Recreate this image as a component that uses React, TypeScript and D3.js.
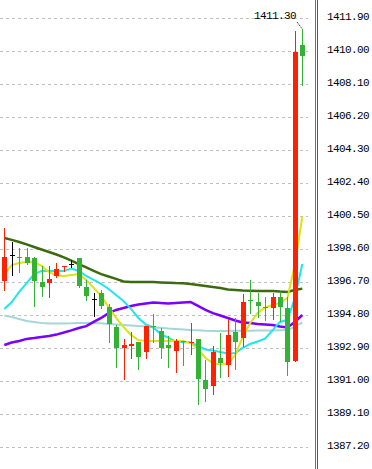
import React, { useEffect, useRef } from "react";
import * as d3 from "d3";

// candles, oldest first (red = up, green = down, black = flat)
const opens = [1396.77, 1398.23, 1398.13, 1398.13, 1398.09, 1396.69, 1396.65, 1397.04, 1397.54, 1397.73,
  1398.09, 1396.40, 1395.69, 1396.06, 1395.25, 1394.10, 1392.90, 1393.02, 1393.23, 1392.67,
  1394.15, 1393.87, 1393.06, 1392.73, 1393.29, 1393.19, 1393.40, 1391.06, 1390.71, 1392.30,
  1391.92, 1393.81, 1393.46, 1395.65, 1395.54, 1395.25, 1395.21, 1395.83, 1395.19, 1392.15, 1410.34];
const highs = [1399.79, 1399.02, 1398.64, 1398.64, 1398.12, 1397.62, 1397.62, 1397.79, 1397.62, 1397.98,
  1398.10, 1396.81, 1396.06, 1396.23, 1395.41, 1394.20, 1393.41, 1393.79, 1393.23, 1394.15,
  1394.85, 1394.04, 1393.55, 1393.41, 1393.29, 1394.33, 1393.41, 1392.19, 1392.98, 1393.74,
  1394.56, 1394.60, 1396.00, 1396.81, 1396.06, 1395.83, 1396.06, 1396.13, 1395.83, 1411.17, 1411.30];
const lows = [1396.19, 1397.06, 1397.23, 1397.67, 1395.27, 1395.84, 1395.75, 1396.91, 1397.29, 1397.48,
  1396.36, 1395.61, 1394.69, 1395.16, 1393.15, 1391.75, 1391.04, 1392.27, 1391.63, 1392.27,
  1393.16, 1392.27, 1391.76, 1391.42, 1391.87, 1392.50, 1389.62, 1389.79, 1390.19, 1391.13,
  1391.21, 1391.62, 1392.93, 1394.86, 1394.63, 1394.46, 1394.52, 1394.37, 1391.29, 1392.10, 1407.98];
const closes = [1398.13, 1398.23, 1398.08, 1397.81, 1396.77, 1396.42, 1396.87, 1397.46, 1397.60, 1397.73,
  1396.48, 1395.91, 1395.69, 1395.33, 1394.29, 1392.90, 1393.06, 1393.12, 1392.38, 1394.15,
  1394.10, 1392.90, 1392.90, 1393.29, 1393.21, 1393.25, 1391.12, 1390.54, 1392.66, 1392.04,
  1393.64, 1393.25, 1395.54, 1395.60, 1395.33, 1395.19, 1395.83, 1395.26, 1392.10, 1409.94, 1409.74];

// moving averages
const ma5 = [1397.15, 1397.67, 1397.79, 1397.85, 1397.85, 1397.62, 1397.27, 1397.07, 1397.04, 1397.10,
  1397.15, 1396.81, 1396.35, 1395.89, 1395.25, 1394.62, 1394.10, 1393.64, 1393.35, 1393.29,
  1393.29, 1393.29, 1393.29, 1393.29, 1393.29, 1393.17, 1392.83, 1392.31, 1392.02, 1391.93,
  1391.96, 1392.48, 1393.52, 1394.33, 1394.90, 1395.22, 1395.37, 1395.48, 1395.77, 1397.67, 1400.47];
const ma10 = [1395.14, 1395.54, 1396.12, 1396.63, 1397.15, 1397.33, 1397.33, 1397.33, 1397.33, 1397.47,
  1397.33, 1397.04, 1396.81, 1396.58, 1396.29, 1395.94, 1395.60, 1395.14, 1394.62, 1394.24,
  1394.07, 1393.69, 1393.49, 1393.26, 1393.23, 1393.20, 1393.00, 1392.80, 1392.74, 1392.66,
  1392.57, 1392.60, 1392.89, 1393.12, 1393.26, 1393.43, 1393.90, 1394.39, 1394.50, 1395.77, 1397.73];
const ma20 = [1393.06, 1393.20, 1393.29, 1393.41, 1393.46, 1393.52, 1393.58, 1393.66, 1393.78, 1393.90,
  1394.04, 1394.15, 1394.39, 1394.62, 1394.90, 1395.08, 1395.19, 1395.31, 1395.39, 1395.45,
  1395.51, 1395.48, 1395.45, 1395.48, 1395.51, 1395.54, 1395.31, 1395.08, 1394.90, 1394.76,
  1394.62, 1394.47, 1394.36, 1394.33, 1394.27, 1394.24, 1394.21, 1394.13, 1394.07, 1394.39, 1394.79];
const ma30 = [1394.76, 1394.67, 1394.56, 1394.44, 1394.39, 1394.33, 1394.30, 1394.30, 1394.30, 1394.31,
  1394.33, 1394.33, 1394.33, 1394.31, 1394.27, 1394.24, 1394.21, 1394.18, 1394.15, 1394.13,
  1394.08, 1394.05, 1394.01, 1393.98, 1393.95, 1393.92, 1393.91, 1393.88, 1393.87, 1393.87,
  1393.87, 1393.88, 1393.88, 1393.88, 1393.89, 1393.89, 1393.89, 1393.91, 1393.92, 1394.10, 1394.36];
const ma60 = [1399.23, 1399.12, 1399.00, 1398.86, 1398.71, 1398.57, 1398.42, 1398.28, 1398.11, 1397.93,
  1397.73, 1397.53, 1397.33, 1397.15, 1397.01, 1396.87, 1396.72, 1396.69, 1396.69, 1396.69,
  1396.69, 1396.67, 1396.65, 1396.63, 1396.62, 1396.58, 1396.52, 1396.46, 1396.40, 1396.35,
  1396.26, 1396.23, 1396.20, 1396.19, 1396.18, 1396.17, 1396.17, 1396.14, 1396.12, 1396.23, 1396.31];

const tickValues = [1411.9, 1410.0, 1408.1, 1406.2, 1404.3, 1402.4, 1400.5, 1398.6, 1396.7, 1394.8,
  1392.9, 1391.0, 1389.1, 1387.2];
const highLabel = "1411.30";

const lines = [
  { values: ma30, color: "#a6d6d6", width: 2 },
  { values: ma20, color: "#7b00ff", width: 2.5 },
  { values: ma60, color: "#3b6b0d", width: 2.5 },
  { values: ma10, color: "#1ee6f0", width: 2 },
  { values: ma5, color: "#dce312", width: 2 },
];

export default function App() {
  const ref = useRef<SVGSVGElement>(null);

  useEffect(() => {
    const width = 372, height = 469;
    const svg = d3.select(ref.current).attr("width", width).attr("height", height);

    const idx = d3.range(opens.length);
    const x = d3.scaleLinear().domain([0, opens.length - 1]).range([4.3, 302.3]);
    const y = d3.scaleLinear().domain([1387.2, 1411.9]).range([446.6, 18.3]);
    const px = (i: number) => Math.round(x(i));

    // grid
    svg.selectAll(".grid").data(tickValues).join("line").attr("class", "grid")
      .attr("x1", 0).attr("x2", 308)
      .attr("y1", d => Math.round(y(d)) + 0.5).attr("y2", d => Math.round(y(d)) + 0.5)
      .attr("stroke", "#c0c0c0").attr("stroke-dasharray", "3,3");

    // moving averages
    const lineGen = d3.line<number>().x((d, i) => x(i)).y(d => y(d));
    svg.selectAll(".ma").data(lines).join("path").attr("class", "ma")
      .attr("d", d => lineGen(d.values))
      .attr("fill", "none").attr("stroke", d => d.color).attr("stroke-width", d => d.width);

    const color = (i: number) =>
      closes[i] > opens[i] ? "#ff2200" : closes[i] < opens[i] ? "#33b233" : "#000000";

    // wicks
    svg.selectAll(".wick").data(idx).join("line").attr("class", "wick")
      .attr("x1", i => px(i) + 0.5).attr("x2", i => px(i) + 0.5)
      .attr("y1", i => Math.round(y(highs[i]))).attr("y2", i => Math.round(y(lows[i])))
      .attr("stroke", i => color(i)).attr("stroke-width", 1);

    // bodies
    svg.selectAll(".body").data(idx).join("rect").attr("class", "body")
      .attr("x", i => px(i) - 2).attr("width", 5)
      .attr("y", i => Math.round(y(Math.max(opens[i], closes[i]))))
      .attr("height", i => Math.max(1, Math.round(y(Math.min(opens[i], closes[i]))) - Math.round(y(Math.max(opens[i], closes[i])))))
      .attr("fill", i => color(i)).attr("shape-rendering", "crispEdges");

    // axis separator
    svg.selectAll(".sep").data([["#808000", 315.5], ["#008080", 317.5]]).join("line").attr("class", "sep")
      .attr("x1", d => d[1]).attr("x2", d => d[1]).attr("y1", 0).attr("y2", height)
      .attr("stroke", d => d[0] as string);

    // price labels
    svg.selectAll(".tick").data(tickValues).join("text").attr("class", "tick")
      .attr("x", 327).attr("y", d => Math.round(y(d)) + 2)
      .text(d => d.toFixed(2))
      .attr("font-family", "Liberation Mono, monospace").attr("font-size", 11)
      .attr("letter-spacing", -0.6).attr("fill", "#000");

    // highest price marker
    const last = opens.length - 1;
    svg.selectAll(".hi").data([highLabel]).join("text").attr("class", "hi")
      .attr("x", 254).attr("y", 19).text(d => d)
      .attr("font-family", "Liberation Mono, monospace").attr("font-size", 11)
      .attr("letter-spacing", -0.6).attr("fill", "#000");
    svg.selectAll(".hiline").data([0]).join("line").attr("class", "hiline")
      .attr("x1", 297).attr("y1", 22).attr("x2", px(last)).attr("y2", y(highs[last]))
      .attr("stroke", "#000").attr("stroke-dasharray", "1,1");
  }, []);

  return (
    <svg ref={ref} style={{ position: "absolute", left: 0, top: 0, background: "#fff" }} />
  );
}
